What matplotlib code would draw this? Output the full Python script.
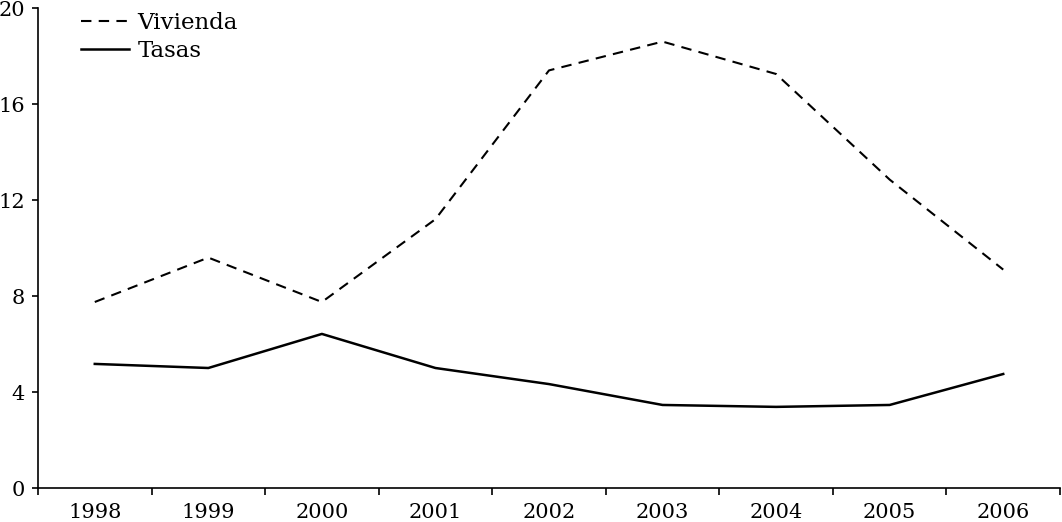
import matplotlib
matplotlib.use("Agg")
import matplotlib.pyplot as plt
import numpy as np

years = ["1998", "1999", "2000", "2001", "2002", "2003", "2004", "2005", "2006"]
vivienda = [7.75, 9.6, 7.75, 11.2, 17.4, 18.6, 17.25, 12.85, 9.1]
tasas = [5.17, 5.0, 6.42, 5.0, 4.33, 3.46, 3.38, 3.46, 4.75]
yticks = [0, 4, 8, 12, 16, 20]

plt.rcParams['font.family'] = ['DejaVu Serif']

fig = plt.figure(figsize=(10.62, 5.22), dpi=100)
ax = fig.add_axes([38/1062, 1-488/522, (1060-38)/1062, (488-8)/522])

x = np.arange(len(years))
ax.plot(x, vivienda, color='black', lw=1.5, ls=(0, (5, 3.5)), label='Vivienda')
ax.plot(x, tasas, color='black', lw=1.8, ls='-', label='Tasas')

ax.set_xlim(-0.5, len(years) - 0.5)
ax.set_ylim(0, 20)
ax.set_yticks(yticks)
ax.set_yticklabels([str(v) for v in yticks], fontsize=15)
ax.set_xticks(np.arange(len(years) + 1) - 0.5)
ax.set_xticklabels([])
ax.set_xticks(x, minor=True)
ax.set_xticklabels(years, minor=True, fontsize=15)
ax.tick_params(axis='x', which='minor', length=0, pad=11)
ax.tick_params(axis='x', which='major', length=5, width=1.2, direction='out')
ax.tick_params(axis='y', length=4.5, width=1.2, direction='out', pad=5)
for s in ['top', 'right']:
    ax.spines[s].set_visible(False)
for s in ['left', 'bottom']:
    ax.spines[s].set_linewidth(1.2)

leg = ax.legend(loc='upper left', bbox_to_anchor=(0.022, 1.035), frameon=False,
                fontsize=16.5, handlelength=2.1, handletextpad=0.35, labelspacing=0.28)

fig.savefig('out.png', dpi=100)
